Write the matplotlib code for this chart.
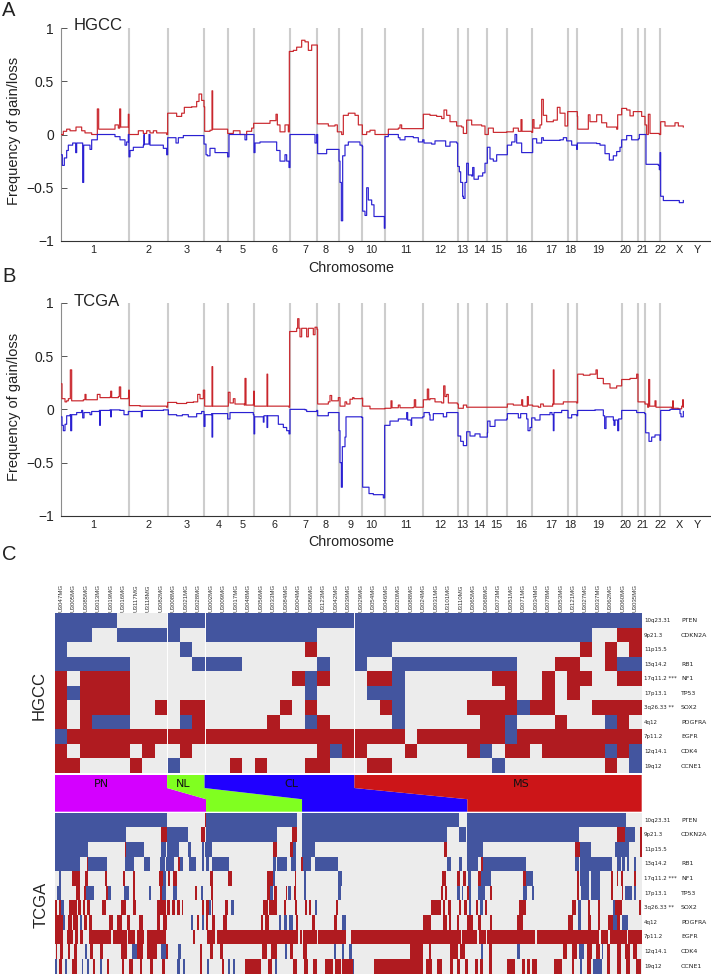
import matplotlib
matplotlib.use("Agg")
import matplotlib.pyplot as plt
from matplotlib.colors import ListedColormap
import numpy as np

plt.rcParams['font.family'] = ['Liberation Sans', 'DejaVu Sans']

W, H = 711, 974
RED_LINE = '#C9262C'
BLUE_LINE = '#2A20D2'
GRAY_CELL = '#ECECEC'
BLUE_CELL = '#43559F'
RED_CELL = '#B01B20'
TEXT = '#222222'

# chromosome layout, genome position in arbitrary units
CHROM_ENDS = [204, 320, 430, 500, 579, 686, 769, 834, 904, 971, 1087, 1190, 1221,
              1279, 1337, 1414, 1520, 1549, 1682, 1731, 1753, 1797]
CHROM_TICKS = [98, 264, 378, 472, 546, 639, 733, 795, 869, 932, 1035, 1139, 1203,
               1255, 1305, 1380, 1472, 1529, 1613, 1694, 1746, 1799, 1854, 1910]
CHROM_LABELS = ['1', '2', '3', '4', '5', '6', '7', '8', '9', '10', '11', '12', '13',
                '14', '15', '16', '17', '18', '19', '20', '21', '22', 'X', 'Y']
X_MAX = 1947

# (position, frequency)
HGCC_GAIN = [(0, 0.0), (7, .03), (17, .05), (27, .035), (45, .07), (62, .035), (72, .015), (92, 0), (107, 0),
             (109, .24), (113, .05), (157, .05), (162, .09), (172, .06), (176, .24), (179, .07), (197, .07),
             (202, .19), (204, 0), (227, 0), (232, .035), (247, .01), (257, .035), (267, .015), (277, .035),
             (287, .015), (317, 0), (320, .2), (342, .2), (347, .17), (362, .2), (370, .255), (392, .26),
             (407, .31), (414, .38), (422, .32), (429, .26), (431, .03), (447, .04), (453, .41), (455, .05),
             (487, .05), (500, .01), (517, .035), (537, 0), (557, .03), (572, .06), (578, .105), (622, .105),
             (627, .13), (642, .13), (645, .19), (649, .09), (657, .025), (672, .09), (682, .025), (685, .78),
             (697, .79), (707, .82), (722, .885), (732, .87), (742, .79), (752, .84), (767, .84), (769, .1),
             (792, .1), (802, .08), (822, .09), (829, .025), (842, 0), (847, .18), (862, .2), (882, .18),
             (892, .09), (904, 0), (917, .025), (927, .04), (942, 0), (972, 0), (982, .05), (1012, .06),
             (1017, .09), (1022, .055), (1085, .055), (1087, .19), (1107, .18), (1127, .17), (1142, .15),
             (1149, .23), (1157, .18), (1167, .12), (1187, .08), (1202, .07), (1207, .01), (1217, .135),
             (1232, .09), (1262, .08), (1272, 0), (1282, .06), (1297, .02), (1337, .025), (1357, .06),
             (1372, .03), (1380, .14), (1383, .03), (1412, .02), (1415, .14), (1419, .06), (1437, .09),
             (1442, .33), (1447, .18), (1457, .12), (1477, .135), (1489, .255), (1497, .2), (1512, .08),
             (1520, .215), (1537, .215), (1549, .17), (1550, .05), (1567, .05), (1582, .185), (1587, .12),
             (1607, .185), (1622, .11), (1637, .07), (1667, .05), (1670, .185), (1682, .245), (1697, .23),
             (1707, .175), (1717, .215), (1732, .215), (1742, .17), (1752, .09), (1757, 0), (1762, .19),
             (1767, .01), (1782, .01), (1795, 0), (1799, .12), (1812, .08), (1837, .08), (1842, .11),
             (1852, .08), (1867, .07)]

HGCC_LOSS = [(0, -.19), (4, -.29), (10, -.22), (17, -.15), (22, -.1), (35, -.08), (44, -.17), (47, -.08), (62, -.08),
             (65, -.45), (68, -.1), (87, -.14), (92, -.05), (108, -.05), (109, 0), (157, 0), (162, -.02), (177, -.05),
             (192, -.1), (197, -.07), (202, 0), (204, -.21), (207, -.15), (217, -.12), (242, -.12), (247, -.1),
             (249, 0), (250, -.09), (262, -.09), (264, 0), (267, -.1), (297, -.1), (307, -.13), (317, -.19),
             (320, -.03), (342, -.03), (345, -.08), (352, -.03), (367, -.01), (427, -.01), (429, -.09), (435, -.19),
             (439, -.2), (447, -.13), (462, -.17), (497, -.17), (500, -.21), (504, 0), (552, 0), (552, -.05), (557, 0),
             (577, 0), (579, -.17), (582, -.08), (597, -.07), (642, -.07), (647, -.15), (657, -.25), (667, -.25),
             (672, -.19), (677, -.25), (684, -.31), (687, 0), (757, 0), (762, -.08), (767, 0), (770, -.18), (792, -.18),
             (797, -.14), (832, -.14), (834, -.25), (837, -.45), (841, -.81), (845, -.2), (852, -.1), (862, -.07),
             (892, -.07), (897, -.1), (903, -.11), (905, -.72), (912, -.76), (917, -.5), (922, -.615), (932, -.66),
             (939, -.77), (967, -.77), (970, -.88), (972, -.02), (982, 0), (1012, -.03), (1017, -.05), (1032, -.02),
             (1057, -.03), (1072, -.07), (1085, -.05), (1089, -.08), (1112, -.09), (1122, -.06), (1147, -.06),
             (1154, -.11), (1167, -.07), (1187, -.08), (1190, -.3), (1195, -.35), (1199, -.45), (1205, -.58),
             (1207, -.6), (1212, -.45), (1217, -.27), (1222, -.38), (1232, -.39), (1235, -.31), (1239, -.42),
             (1252, -.39), (1265, -.36), (1272, -.27), (1279, -.12), (1287, -.23), (1297, -.25), (1307, -.19),
             (1337, -.19), (1339, -.1), (1352, -.07), (1362, 0), (1367, -.08), (1380, -.08), (1382, -.17), (1412, -.17),
             (1415, -.04), (1427, -.08), (1442, -.03), (1447, -.055), (1477, -.055), (1497, -.05), (1507, -.03),
             (1517, -.06), (1532, -.1), (1547, -.14), (1549, -.08), (1607, -.085), (1617, -.1), (1632, -.18),
             (1645, -.24), (1657, -.2), (1667, -.16), (1677, -.12), (1682, -.05), (1697, -.01), (1712, -.05),
             (1732, -.04), (1735, 0), (1752, 0), (1755, -.28), (1792, -.29), (1795, -.33), (1797, -.17), (1799, -.58),
             (1807, -.62), (1852, -.62), (1855, -.64), (1867, -.62)]

TCGA_GAIN = [(0, .24), (3, .1), (12, .07), (17, .08), (22, .1), (28, .37), (32, .08), (67, .09), (72, .14), (75, .09),
             (107, .09), (109, .14), (117, .11), (147, .115), (149, .17), (152, .11), (172, .12), (175, .21), (179, .1),
             (202, .11), (203, .18), (205, .035), (237, .03), (287, .03), (317, .02), (320, .065), (347, .055),
             (377, .065), (397, .07), (410, .14), (417, .1), (427, .18), (431, .03), (447, .03), (453, .4), (455, .03),
             (500, .03), (502, .16), (507, .06), (517, .1), (522, .05), (550, .04), (552, .29), (555, .04), (577, .05),
             (578, .17), (580, .03), (617, .03), (618, .33), (620, .03), (684, .02), (686, .73), (707, .76), (710, .85),
             (714, .76), (717, .68), (722, .76), (737, .68), (742, .76), (757, .7), (762, .77), (768, .75), (770, .05),
             (802, .07), (807, .13), (812, .08), (832, .11), (837, .03), (852, .07), (857, .05), (867, .095), (875, .11),
             (879, .1), (902, .105), (905, .03), (927, .005), (972, .01), (990, .08), (993, .015), (1012, .04),
             (1017, .015), (1057, .02), (1060, .09), (1064, .02), (1085, .02), (1087, .09), (1099, .19), (1103, .09),
             (1107, .1), (1122, .07), (1142, .06), (1148, .22), (1152, .12), (1157, .14), (1162, .06), (1189, .05),
             (1192, .01), (1207, .04), (1217, .02), (1277, .02), (1337, .02), (1339, .05), (1357, .04), (1382, .09),
             (1385, .03), (1399, .12), (1402, .04), (1415, .03), (1432, .02), (1439, .05), (1447, .03), (1475, .05),
             (1477, .37), (1479, .05), (1507, .07), (1522, .07), (1547, .06), (1550, .33), (1567, .32), (1587, .33),
             (1605, .37), (1609, .29), (1627, .24), (1647, .2), (1667, .22), (1682, .28), (1707, .29), (1727, .33),
             (1731, .07), (1752, .05), (1760, .02), (1763, .28), (1766, .03), (1782, .08), (1785, .02), (1832, .01),
             (1835, .08), (1837, .01), (1852, .005), (1862, .03), (1865, .09), (1867, .02)]

TCGA_LOSS = [(0, -.07), (3, -.15), (7, -.2), (12, -.14), (17, -.06), (27, -.05), (29, -.2), (32, -.05), (47, -.03),
             (62, -.01), (65, -.08), (69, -.03), (87, -.05), (92, -.02), (115, -.01), (116, -.15), (118, -.01),
             (147, -.005), (149, -.07), (151, -.005), (177, -.01), (189, -.05), (202, -.02), (217, -.02), (241, -.07),
             (244, -.01), (307, -.005), (322, -.05), (347, -.06), (364, -.05), (382, -.07), (407, -.04), (422, -.02),
             (429, -.16), (432, -.05), (452, -.04), (453, -.26), (455, -.04), (482, -.04), (500, -.09), (507, -.03),
             (547, -.03), (577, -.05), (579, -.23), (581, -.07), (604, -.07), (607, -.12), (609, -.06), (618, -.17),
             (620, -.06), (647, -.06), (652, -.14), (667, -.17), (677, -.2), (684, -.23), (687, 0), (732, -.005),
             (737, -.02), (767, -.01), (770, -.06), (802, -.03), (827, -.03), (834, -.2), (837, -.5), (841, -.73),
             (844, -.35), (852, -.26), (855, -.07), (867, -.07), (902, -.075), (905, -.73), (922, -.73), (924, -.79),
             (937, -.8), (967, -.83), (971, -.15), (987, -.11), (1012, -.09), (1037, -.03), (1040, -.1), (1050, -.15),
             (1052, -.08), (1085, -.07), (1089, -.03), (1105, -.05), (1107, -.1), (1117, -.04), (1147, -.07),
             (1157, -.03), (1189, -.03), (1191, -.25), (1199, -.3), (1207, -.34), (1217, -.21), (1227, -.25),
             (1242, -.23), (1257, -.26), (1279, -.22), (1280, -.11), (1287, -.16), (1302, -.1), (1337, -.09),
             (1339, -.04), (1362, -.04), (1372, -.08), (1379, -.04), (1397, -.09), (1401, -.2), (1407, -.17),
             (1412, -.08), (1422, -.1), (1437, -.05), (1467, -.03), (1473, -.05), (1477, -.2), (1479, -.03),
             (1502, -.01), (1519, -.01), (1521, -.08), (1532, -.05), (1547, -.06), (1550, -.01), (1602, -.005),
             (1627, -.06), (1631, -.18), (1635, -.07), (1657, -.1), (1659, -.15), (1662, -.1), (1670, -.2), (1673, -.09),
             (1682, -.01), (1727, -.03), (1751, -.04), (1754, -.22), (1764, -.3), (1772, -.26), (1782, -.24),
             (1797, -.29), (1799, -.01), (1827, 0), (1857, -.04), (1860, -.07), (1867, -.02)]

# sample names, group sizes and copy number calls of the cell lines
SAMPLES = ['U3047MG', 'U3005MG', 'U3085MG', 'U3013MG', 'U3019MG', 'U3016MG', 'U3117MG', 'U3118MG', 'U3082MG',
           'U3008MG', 'U3021MG', 'U3028MG',
           'U3002MG', 'U3009MG', 'U3017MG', 'U3048MG', 'U3056MG', 'U3033MG', 'U3084MG', 'U3004MG', 'U3086MG',
           'U3123MG', 'U3042MG', 'U3039MG',
           'U3029MG', 'U3054MG', 'U3046MG', 'U3020MG', 'U3088MG', 'U3024MG', 'U3031MG', 'U3101MG', 'U3110MG',
           'U3065MG', 'U3068MG', 'U3073MG', 'U3051MG', 'U3071MG', 'U3034MG', 'U3078MG', 'U3053MG', 'U3121MG',
           'U3027MG', 'U3037MG', 'U3062MG', 'U3060MG', 'U3035MG']
HGCC_GROUP_SIZES = [9, 3, 12, 23]
TCGA_GROUP_SIZES = [454, 288, 496, 523]
GROUP_NAMES = ['PN', 'NL', 'CL', 'MS']
GROUP_COLORS = ['#D400FF', '#80FF20', '#2000FF', '#CC1518']

CYTOBANDS = ['10q23.31', '9p21.3', '11p15.5', '13q14.2', '17q11.2 ***', '17p13.1', '3q26.33 **', '4q12', '7p11.2',
             '12q14.1', '19q12']
GENES = ['PTEN', 'CDKN2A', '', 'RB1', 'NF1', 'TP53', 'SOX2', 'PDGFRA', 'EGFR', 'CDK4', 'CCNE1']

HGCC_CALLS = [
    'BBBBB.... BBB BBBBBBBBBBBB BBBBBBBBBBBBBBBBBBBBBBB',
    'BBB..BBBB B.. BBBBBBBBB... BBBBBBBBBBBBBBBBBBB..RR',
    'B........ .B. ........R... BBB...............R.R.R',
    'BBBBBB... ..B BBB......B.. B..BBBBBBBBBB...RR..RBB',
    'R.RRRR... ... .......RBR.. .RRB.......RR..R.RR..RR',
    'RBRRRR... ... ........B... .BBB........R..R.R.....',
    'R.RRRR..R .RR ......R.R... ..RB.....RRRRBRR...RRRR',
    'R.RBBB... .BR .....R..BR.. ...B......RRB...R...BR.',
    'BRRRRRRRR RRR RRRRRRRRRRRR RRRR.RRRRRRRBRRRRRRRRRR',
    'R.RRRR.R. .R. .........RBR R...R....RB.RR.RRRRRBRB',
    'RR....R.. B.. ..R.R...RR.. .RR........B........R.B',
]

# tumour calls as (first, last) sample runs, one list per row
TCGA_BLUE = [
    [(0, 336), (454, 726), (742, 1214), (1238, 1713)],
    [(0, 214), (336, 399), (454, 668), (742, 1176), (1214, 1234), (1238, 1574), (1712, 1741)],
    [(0, 100), (212, 268), (318, 334), (336, 374), (399, 410), (441, 448), (451, 471), (714, 724), (742, 781),
     (1238, 1286), (1576, 1609), (1682, 1704), (1706, 1722)],
    [(0, 76), (100, 158), (210, 239), (268, 286), (316, 331), (334, 358), (376, 386), (402, 424), (441, 449),
     (454, 464), (472, 523), (654, 664), (668, 698), (708, 724), (744, 770), (781, 850), (1176, 1189), (1214, 1221),
     (1238, 1271), (1286, 1413), (1561, 1573), (1576, 1671), (1686, 1698), (1702, 1711), (1716, 1724), (1738, 1744)],
    [(14, 20), (326, 333), (654, 661), (748, 754), (850, 863), (1240, 1248), (1271, 1309), (1413, 1434), (1576, 1602),
     (1609, 1636)],
    [(8, 20), (94, 118), (160, 168), (208, 222), (284, 289), (322, 333), (354, 366), (440, 446), (646, 654),
     (701, 708), (748, 754), (850, 860), (1208, 1216), (1221, 1226), (1240, 1248), (1271, 1291), (1406, 1417),
     (1431, 1438), (1578, 1602), (1608, 1636), (1712, 1731), (1738, 1744)],
    [(20, 28), (464, 468), (530, 538), (780, 788), (1242, 1248), (1276, 1286), (1570, 1578), (1676, 1681)],
    [(26, 32), (76, 81), (408, 414), (441, 448), (674, 679), (689, 696), (704, 714), (863, 873), (1244, 1248),
     (1571, 1578), (1676, 1686), (1701, 1719)],
    [],
    [(91, 96), (231, 246), (320, 333), (370, 380), (691, 696), (838, 844), (861, 868), (884, 891), (1278, 1286),
     (1386, 1396), (1574, 1589), (1641, 1646)],
    [(1, 8), (31, 36), (81, 86), (98, 104), (136, 141), (366, 376), (386, 392), (458, 463), (521, 526), (534, 540),
     (661, 666), (889, 898), (1576, 1581), (1616, 1642)],
]
TCGA_RED = [
    [(451, 454)],
    [(320, 336), (440, 451), (712, 726), (1686, 1712), (1756, 1761)],
    [(210, 213), (654, 668), (706, 714), (1168, 1176), (1561, 1576), (1756, 1761)],
    [(96, 100), (371, 376), (740, 744), (1278, 1286)],
    [(52, 76), (90, 100), (152, 158), (206, 211), (234, 241), (314, 326), (341, 346), (356, 366), (466, 476),
     (521, 531), (636, 654), (720, 724), (1162, 1174), (1208, 1216), (1226, 1234), (1271, 1280), (1406, 1413),
     (1566, 1574), (1668, 1674), (1686, 1691), (1698, 1704), (1738, 1744)],
    [(64, 76), (88, 94), (154, 160), (236, 241), (316, 322), (420, 426), (468, 474), (636, 646), (658, 666),
     (694, 698), (718, 724), (1160, 1166), (1171, 1176), (1238, 1244), (1306, 1311), (1568, 1574), (1668, 1676),
     (1701, 1706)],
    [(0, 6), (14, 18), (44, 66), (71, 78), (84, 91), (98, 106), (141, 154), (199, 214), (234, 244), (306, 334),
     (338, 346), (352, 361), (366, 376), (381, 386), (442, 448), (454, 464), (471, 476), (512, 520), (626, 639),
     (644, 666), (688, 694), (721, 726), (751, 758), (762, 768), (844, 850), (1128, 1158), (1166, 1171), (1181, 1189),
     (1214, 1219), (1228, 1236), (1264, 1271), (1291, 1296), (1393, 1413), (1551, 1564), (1601, 1606), (1631, 1636),
     (1681, 1701), (1754, 1759)],
    [(0, 24), (40, 51), (56, 71), (88, 98), (104, 111), (164, 174), (188, 201), (218, 226), (254, 266), (306, 316),
     (326, 336), (426, 432), (454, 461), (471, 481), (506, 516), (619, 626), (631, 644), (724, 729), (771, 781),
     (839, 848), (1104, 1129), (1166, 1176), (1182, 1189), (1206, 1214), (1238, 1254), (1271, 1278), (1306, 1311),
     (1386, 1406), (1541, 1554), (1601, 1608), (1631, 1636), (1661, 1674), (1686, 1696)],
    [(0, 26), (38, 56), (61, 71), (76, 84), (102, 168), (174, 216), (221, 241), (246, 268), (278, 334), (416, 421),
     (458, 481), (486, 729), (736, 741), (746, 786), (791, 874), (888, 1218), (1222, 1236), (1238, 1266), (1273, 1294),
     (1298, 1441), (1448, 1634), (1638, 1661), (1666, 1716), (1721, 1761)],
    [(4, 8), (16, 24), (41, 46), (58, 68), (106, 114), (136, 144), (198, 216), (246, 266), (276, 306), (333, 341),
     (436, 442), (466, 476), (496, 506), (621, 636), (648, 668), (706, 716), (746, 756), (1066, 1104), (1124, 1129),
     (1186, 1211), (1216, 1231), (1304, 1313), (1526, 1536), (1551, 1566), (1596, 1611), (1624, 1636), (1656, 1666),
     (1686, 1698), (1711, 1726), (1736, 1746)],
    [(14, 21), (51, 68), (116, 121), (158, 163), (201, 208), (224, 236), (256, 261), (286, 296), (321, 331), (436, 442),
     (501, 508), (571, 619), (641, 651), (716, 726), (748, 761), (774, 786), (811, 835), (840, 858), (862, 896),
     (959, 1104), (1114, 1131), (1146, 1163), (1186, 1196), (1206, 1216), (1231, 1241), (1261, 1271), (1276, 1284),
     (1304, 1311), (1356, 1381), (1401, 1411), (1416, 1426), (1431, 1446), (1498, 1523), (1551, 1558), (1596, 1608),
     (1656, 1666), (1686, 1698), (1714, 1726), (1744, 1758)],
]


def px_axes(fig, left, top, right, bottom):
    return fig.add_axes([left / W, 1 - bottom / H, (right - left) / W, (bottom - top) / H])


def px_text(fig, x, y, s, **kwargs):
    kwargs.setdefault('color', TEXT)
    kwargs.setdefault('va', 'center')
    kwargs.setdefault('ha', 'center')
    fig.text(x / W, 1 - y / H, s, **kwargs)


def freq_panel(fig, top, bottom, gain, loss):
    ax = px_axes(fig, 61, top, 710, bottom)
    for end in CHROM_ENDS:
        ax.axvline(end, color='#CDCDCD', lw=1.5, zorder=1)
    for series, color in ((gain, RED_LINE), (loss, BLUE_LINE)):
        pos, val = zip(*series)
        ax.step(pos, val, where='post', color=color, lw=0.85, zorder=3, snap=False)
    ax.set_xlim(0, X_MAX)
    ax.set_ylim(-1, 1)
    ax.set_xticks(CHROM_TICKS, CHROM_LABELS, fontsize=7.8, color=TEXT)
    ax.tick_params(axis='x', length=0, pad=3)
    ax.set_yticks([-1, -0.5, 0, 0.5, 1], ['\u22121', '\u22120.5', '0', '0.5', '1'], fontsize=10, color=TEXT)
    ax.tick_params(axis='y', direction='in', length=4, width=0.7, color='#555555', pad=5)
    ax.spines['top'].set_visible(False)
    ax.spines['right'].set_visible(False)
    ax.spines['left'].set_color('#8C8C8C')
    ax.spines['bottom'].set_color('#333333')
    return ax


def row_labels(ax):
    ax.set_xticks([])
    ax.set_yticks([])
    for spine in ax.spines.values():
        spine.set_visible(False)
    for i, (band, gene) in enumerate(zip(CYTOBANDS, GENES)):
        ax.text(1.004, i, band, transform=ax.get_yaxis_transform(), fontsize=4.0, va='center',
                color=TEXT, family='DejaVu Sans')
        ax.text(1.067, i, gene, transform=ax.get_yaxis_transform(), fontsize=4.5, va='center',
                color=TEXT, family='DejaVu Sans')


fig = plt.figure(figsize=(W / 100, H / 100), dpi=100)

freq_panel(fig, 28, 241, HGCC_GAIN, HGCC_LOSS)
freq_panel(fig, 302.7, 516, TCGA_GAIN, TCGA_LOSS)

for y in (131, 407):
    px_text(fig, 14, y, 'Frequency of gain/loss', rotation=90, fontsize=10.5)
for y in (268, 541.5):
    px_text(fig, 351, y, 'Chromosome', fontsize=10.3)
px_text(fig, 74, 26, 'HGCC', fontsize=12, ha='left')
px_text(fig, 74, 302, 'TCGA', fontsize=12, ha='left')
px_text(fig, 2, 11, 'A', fontsize=14.5, ha='left')
px_text(fig, 2, 276, 'B', fontsize=14.5, ha='left')
px_text(fig, 2, 555, 'C', fontsize=14.5, ha='left')
px_text(fig, 39, 695.5, 'HGCC', fontsize=12, rotation=90)
px_text(fig, 41, 905, 'TCGA', fontsize=12, rotation=90)

# panel C cell lines
code = {'.': 0, 'B': 1, 'R': 2}
hgcc = np.array([[code[c] for c in row.replace(' ', '')] for row in HGCC_CALLS])
ax_hgcc = px_axes(fig, 54.7, 613.3, 641.7, 773.3)
ax_hgcc.imshow(hgcc, cmap=ListedColormap([GRAY_CELL, BLUE_CELL, RED_CELL]), vmin=0, vmax=2, aspect='auto',
               interpolation='nearest')
row_labels(ax_hgcc)
for b in np.cumsum(HGCC_GROUP_SIZES)[:-1]:
    ax_hgcc.axvline(b - 0.5, color='white', lw=0.7)
ax_hgcc.xaxis.tick_top()
ax_hgcc.set_xticks(range(len(SAMPLES)), SAMPLES, rotation=90, fontsize=4.4, color='#333333')
ax_hgcc.tick_params(axis='x', length=0, pad=1)

# subtype band between the two cohorts
ax_band = px_axes(fig, 54.7, 775, 641.7, 811.7)
top_edges = np.concatenate([[0], np.cumsum(HGCC_GROUP_SIZES)]) / sum(HGCC_GROUP_SIZES)
low_edges = np.concatenate([[0], np.cumsum(TCGA_GROUP_SIZES)]) / sum(TCGA_GROUP_SIZES)
levels = [0, 0.355, 0.66, 1]
for i, color in enumerate(GROUP_COLORS):
    left = [top_edges[i], top_edges[i], low_edges[i], low_edges[i]]
    right = [top_edges[i + 1], top_edges[i + 1], low_edges[i + 1], low_edges[i + 1]]
    ax_band.fill(left + right[::-1], levels + levels[::-1], color=color, lw=0)
ax_band.set_xlim(0, 1)
ax_band.set_ylim(1, 0)
ax_band.axis('off')
for name, x in zip(GROUP_NAMES, (101.7, 183, 291, 521.7)):
    px_text(fig, x, 784, name, fontsize=8, family='DejaVu Sans', color='#111111')

# panel C tumours
ax_tcga = px_axes(fig, 54.7, 812.7, 641.7, 973.5)
ax_tcga.set_facecolor(GRAY_CELL)
for r in range(len(CYTOBANDS)):
    for runs, color in ((TCGA_BLUE[r], BLUE_CELL), (TCGA_RED[r], RED_CELL)):
        spans = [(a, b - a) for a, b in runs]
        ax_tcga.broken_barh(spans, (r - 0.5, 1), facecolors=color, lw=0)
ax_tcga.set_xlim(0, sum(TCGA_GROUP_SIZES))
ax_tcga.set_ylim(len(CYTOBANDS) - 0.5, -0.5)
row_labels(ax_tcga)

fig.savefig('out.png', dpi=100)
